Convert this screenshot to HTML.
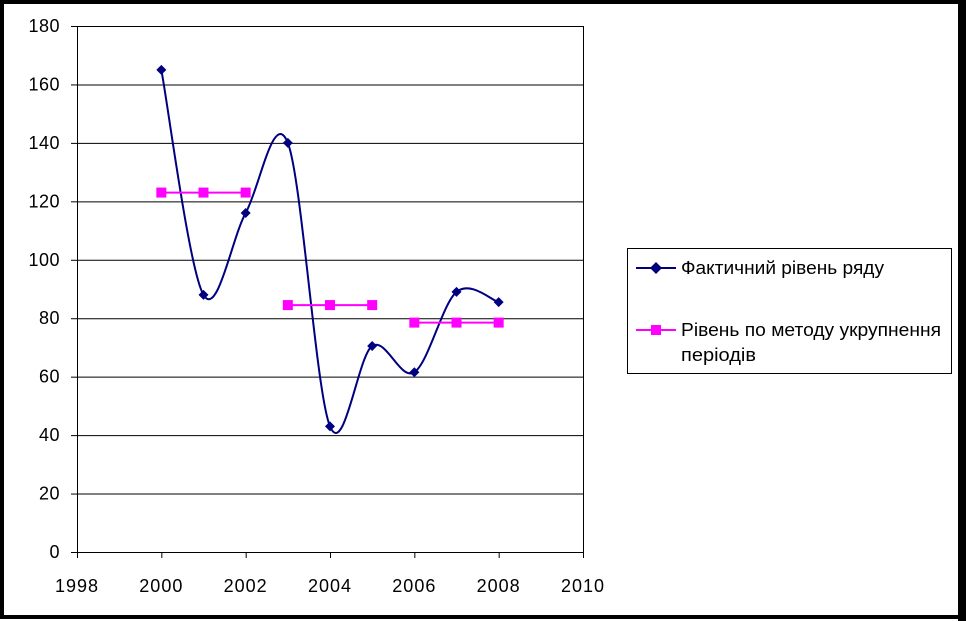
<!DOCTYPE html>
<html><head><meta charset="utf-8"><style>
body{margin:0;background:#fff}
svg{display:block;font-family:"Liberation Sans",sans-serif}
</style></head><body>
<svg id="c" width="966" height="621">
<rect x="2" y="2" width="958" height="615" fill="#fff" stroke="#000" stroke-width="4"/>
<rect x="958" y="0" width="8" height="621" fill="#000"/>
<g id="grid"></g><g id="axes"></g><g id="series"></g>
<g>
<rect x="627.5" y="248.5" width="324" height="125" fill="#fff" stroke="#000"/>
<g>
<line x1="636" y1="268" x2="676" y2="268" stroke="#000080" stroke-width="2"/>
<path d="M656 262 L662 268 L656 274 L650 268Z" fill="#000080"/>
<text x="681" y="274" font-size="18" textLength="203" lengthAdjust="spacingAndGlyphs">Фактичний рівень ряду</text></g>
<g>
<line x1="636" y1="330" x2="676" y2="330" stroke="#ff00ff" stroke-width="2"/>
<rect x="651" y="325" width="10" height="10" fill="#ff00ff"/>
<text x="681" y="336" font-size="18" textLength="260" lengthAdjust="spacingAndGlyphs">Рівень по методу укрупнення</text>
<text x="681" y="361" font-size="18" textLength="75" lengthAdjust="spacingAndGlyphs">періодів</text></g>
</g>
</svg>
<script>
const years=[2000,2001,2002,2003,2004,2005,2006,2007,2008];
const actual=[165,88,116,140,43,70.5,61.5,89,85.5];
const groupYears=[[2000,2001,2002],[2003,2004,2005],[2006,2007,2008]];
const groupValues=[123,84.5,78.5];
const yTicks=[0,20,40,60,80,100,120,140,160,180];
const xTicks=[1998,2000,2002,2004,2006,2008,2010];
const NS="http://www.w3.org/2000/svg";
const X=v=>77+(v-1998)*(583-77)/12, Y=v=>552-v*(552-26)/180;
function mk(p,t,a){const e=document.createElementNS(NS,t);for(const k in a)e.setAttribute(k,a[k]);p.appendChild(e);return e;}
const g=document.getElementById('grid'),ax=document.getElementById('axes'),s=document.getElementById('series');
yTicks.forEach(v=>{
 if(v>0){const l=mk(g,'line',{x1:77,x2:583,y1:Y(v)+.5,y2:Y(v)+.5,stroke:'#000'});
 
 }
 mk(ax,'line',{x1:71,x2:77,y1:Y(v)+.5,y2:Y(v)+.5,stroke:'#000'});
 const t=mk(ax,'text',{x:60,y:Y(v)+6,'text-anchor':'end','font-size':18,'letter-spacing':0.5});t.textContent=v;
 
 
});
xTicks.forEach(v=>{
 mk(ax,'line',{x1:X(v)+.5,x2:X(v)+.5,y1:552,y2:558,stroke:'#000'});
 const t=mk(ax,'text',{x:X(v),y:592,'text-anchor':'middle','font-size':18,'letter-spacing':1});t.textContent=v;
 
 
});
const ya=mk(ax,'line',{x1:77.5,x2:77.5,y1:26,y2:552,stroke:'#000'});


mk(ax,'line',{x1:583.5,x2:583.5,y1:26,y2:552,stroke:'#000'});
const xa=mk(ax,'line',{x1:77,x2:583,y1:552.5,y2:552.5,stroke:'#000'});


const P=years.map((y,i)=>[X(y),Y(actual[i])]);
let d='M'+P[0][0]+' '+P[0][1];
for(let i=0;i<P.length-1;i++){
 const p0=P[i-1]||P[i],p1=P[i],p2=P[i+1],p3=P[i+2]||p2,k=1/6;
 d+=` C${p1[0]+(p2[0]-p0[0])*k} ${p1[1]+(p2[1]-p0[1])*k} ${p2[0]-(p3[0]-p1[0])*k} ${p2[1]-(p3[1]-p1[1])*k} ${p2[0]} ${p2[1]}`;
}
const line=mk(s,'path',{d:d,fill:'none',stroke:'#000080','stroke-width':2});


groupYears.forEach((ys,gi)=>{
 const l=mk(s,'line',{x1:X(ys[0]),x2:X(ys[ys.length-1]),y1:Y(groupValues[gi]),y2:Y(groupValues[gi]),stroke:'#ff00ff','stroke-width':2});
 
 
 ys.forEach(y=>{
  const r=mk(s,'rect',{x:X(y)-5,y:Y(groupValues[gi])-5,width:10,height:10,fill:'#ff00ff'});
  
  
 });
});
P.forEach((p,i)=>{
 const m=mk(s,'path',{d:`M${p[0]} ${p[1]-5}L${p[0]+5} ${p[1]}L${p[0]} ${p[1]+5}L${p[0]-5} ${p[1]}Z`,fill:'#000080'});
 
 
});
</script>
</body></html>
